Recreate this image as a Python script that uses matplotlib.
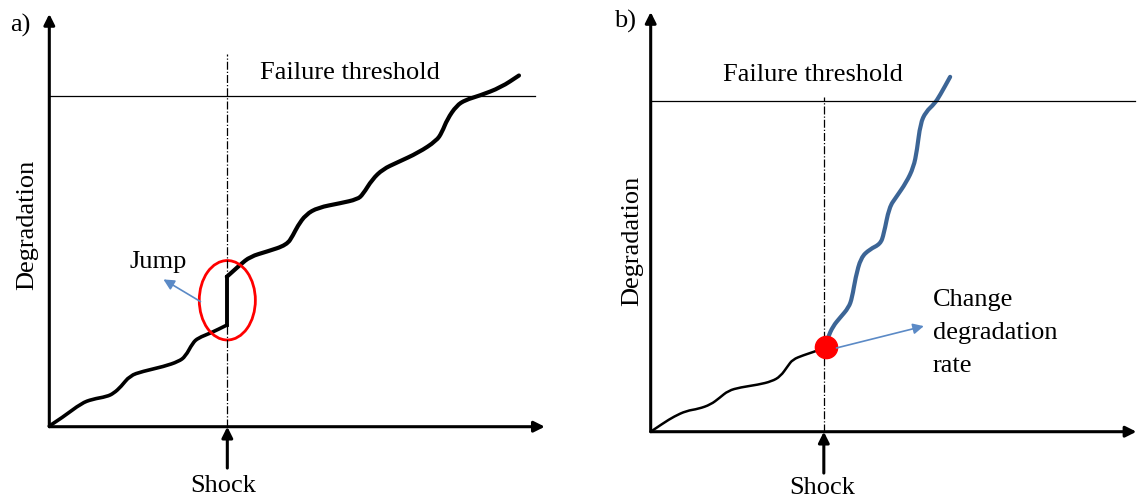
import matplotlib.pyplot as plt
from matplotlib.patches import Ellipse, PathPatch
from matplotlib.path import Path

plt.rcParams['font.family'] = ['Liberation Serif', 'DejaVu Serif']

# panel a: degradation path, before and after the shock jump
a_before_x = [0, 2.9, 6.6, 8.8, 11.8, 13.2, 14.7, 16.5, 19.1, 23.5, 26.5, 27.9, 29.4, 30.5, 33.1, 36.4]
a_before_y = [0.2, 3.0, 7.1, 8.3, 9.1, 10.1, 12.1, 15.4, 16.7, 18.2, 19.7, 21.2, 25.3, 26.8, 28.3, 30.7]
a_after_x = [36.4, 39.1, 41.2, 44.6, 48.7, 50.0, 50.9, 52.6, 55.1, 59.6, 63.2, 64.3, 66.2, 68.4,
             71.3, 75.7, 79.4, 80.5, 81.6, 83.5, 85.3, 88.2, 92.6, 96.3]
a_after_y = [45.3, 48.9, 51.4, 52.9, 54.9, 57.9, 60.6, 64.1, 66.2, 67.5, 68.7, 70.2, 74.7, 77.8,
             79.8, 82.8, 86.4, 88.9, 92.9, 97.0, 98.7, 100.0, 102.5, 106.1]

# panel b: slow path until the shock, then a faster one
b_before_x = [0.1, 2.6, 4.8, 7.3, 9.8, 12.3, 14.1, 15.9, 18.4, 22.0, 24.8, 26.6, 28.1, 29.1, 31.3, 33.4, 35.9]
b_before_y = [0.1, 2.6, 4.6, 6.3, 6.9, 8.2, 10.2, 12.4, 13.4, 14.2, 15.2, 16.7, 19.8, 21.8, 23.1, 24.1, 25.5]
b_after_x = [35.9, 36.3, 37.4, 38.8, 40.6, 41.3, 42.0, 43.1, 44.9, 47.1, 47.8, 48.9, 50.3, 52.4, 53.9,
             54.6, 55.3, 56.4, 58.2, 59.3, 61.4]
b_after_y = [25.5, 28.4, 31.9, 34.4, 37.5, 40.5, 46.6, 52.6, 55.1, 56.7, 59.7, 67.8, 70.8, 75.3, 79.9,
             85.0, 93.1, 96.6, 99.1, 101.6, 107.2]

threshold = 100
shock_a = 36.5
shock_b = 35.5

fig = plt.figure(figsize=(11.38, 4.99), dpi=100)
axa = fig.add_axes([0, 0, 0.5, 1])
axb = fig.add_axes([0.5, 0, 0.5, 1])
axa.set_xlim(-10.11, 106.56)
axa.set_ylim(-21.84, 128.91)
axb.set_xlim(-16.75, 99.92)
axb.set_ylim(-20.33, 130.42)

fs = 19
arrow_k = dict(arrowstyle='-|>', color='black', lw=2.2, mutation_scale=16, shrinkA=0, shrinkB=0)
blue_k = dict(arrowstyle='-|>', color='#5b8ac6', lw=1.2, mutation_scale=16, shrinkA=0, shrinkB=0)


def smooth(ax, xs, ys, **kw):
    # quadratic curve through the midpoints, the read points act as control points
    pts = list(zip(xs, ys))
    verts = [pts[0]]
    codes = [Path.MOVETO]
    for i in range(1, len(pts) - 1):
        mid = ((pts[i][0] + pts[i + 1][0]) / 2, (pts[i][1] + pts[i + 1][1]) / 2)
        verts += [pts[i], mid]
        codes += [Path.CURVE3, Path.CURVE3]
    verts.append(pts[-1])
    codes.append(Path.LINETO)
    ax.add_patch(PathPatch(Path(verts, codes), fill=False, capstyle='round', joinstyle='round', **kw))


def frame(ax, x_tip, y_tip, x_thr, shock, shock_top, label_pos, lab, deg_pos, thr_pos, shock_txt):
    ax.axis('off')
    ax.annotate('', xy=(x_tip, 0), xytext=(0, 0), arrowprops=arrow_k)
    ax.annotate('', xy=(0, y_tip), xytext=(0, 0), arrowprops=arrow_k)
    ax.plot([0, x_thr], [threshold, threshold], color='black', lw=0.9)
    ax.plot([shock, shock], [0, shock_top], color='black', lw=0.9, ls='-.')
    ax.annotate('', xy=(shock, 0), xytext=(shock, -12.5), arrowprops=arrow_k)
    ax.text(shock_txt[0], shock_txt[1], 'Shock', fontsize=fs, ha='center', va='center')
    ax.text(label_pos[0], label_pos[1], lab, fontsize=fs, ha='center', va='center')
    ax.text(deg_pos[0], deg_pos[1], 'Degradation', fontsize=fs, ha='center', va='center', rotation=90)
    ax.text(thr_pos[0], thr_pos[1], 'Failure threshold', fontsize=fs, ha='center', va='center')


frame(axa, 101.6, 124.7, 99.6, shock_a, 112.6, (-6.0, 121.3), 'a)', (-4.6, 60.9), (61.7, 106.9),
      (35.6, -17.9))
frame(axb, 99.6, 126.8, 99.3, shock_b, 101.0, (-5.3, 123.8), 'b)', (-3.8, 57.8), (33.3, 107.8),
      (35.1, -17.0))

# panel a curve with jump
smooth(axa, a_before_x, a_before_y, edgecolor='black', lw=2.6)
axa.plot([a_before_x[-1], a_after_x[0]], [a_before_y[-1], a_after_y[0]], color='black', lw=2.8)
smooth(axa, a_after_x, a_after_y, edgecolor='black', lw=3.0)
axa.add_patch(Ellipse((36.5, 38.2), 11.5, 24.0, fill=False, edgecolor='#ff0000', lw=2))
axa.annotate('', xy=(23.4, 44.5), xytext=(31.0, 37.8), arrowprops=blue_k)
axa.text(22.3, 49.7, 'Jump', fontsize=fs, ha='center', va='center')

# panel b curve with rate change
smooth(axb, b_before_x, b_before_y, edgecolor='black', lw=1.8)
smooth(axb, b_after_x, b_after_y, edgecolor='#3c6596', lw=3.0)
axb.plot([35.9], [25.7], marker='o', ms=16, color='#ff0000', mec='#ff0000')
axb.annotate('', xy=(56.0, 31.9), xytext=(38.1, 25.3), arrowprops=blue_k)
axb.text(57.8, 29.9, 'Change\ndegradation\nrate', fontsize=fs, ha='left', va='center', linespacing=1.65)

fig.savefig('out.png', dpi=100)
